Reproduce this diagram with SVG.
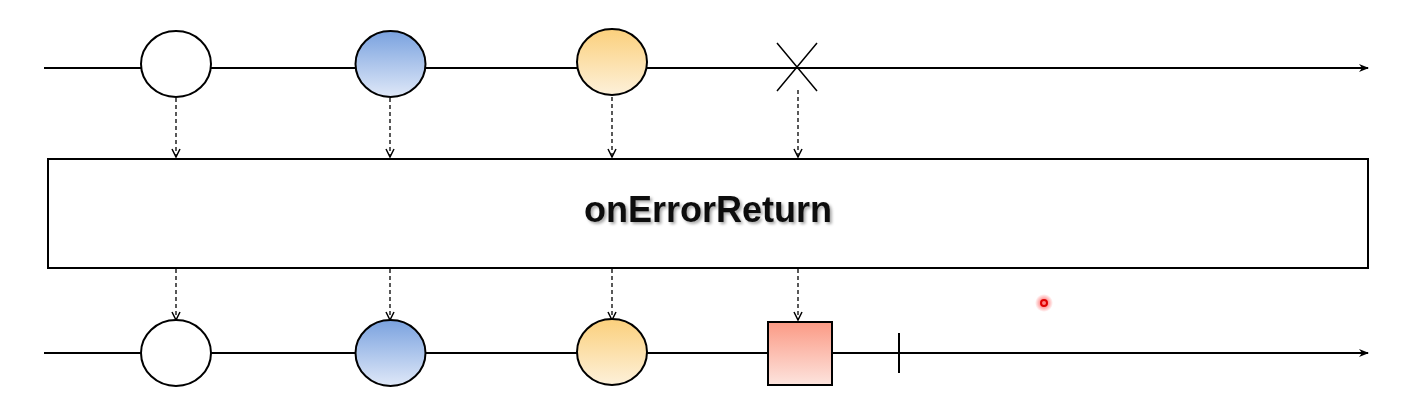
<svg xmlns="http://www.w3.org/2000/svg" width="1410" height="402" viewBox="0 0 1410 402">
<style>
.line{stroke:#000;stroke-width:2;fill:none}
.dash{stroke:#000;stroke-width:1.3;stroke-dasharray:4 3;fill:none}
.node{stroke:#000;stroke-width:2}
.label{font-family:"Liberation Sans",Arial,sans-serif;font-weight:bold;font-size:36px;fill:#111}
</style>
<defs>
<linearGradient id="gBlue" x1="0" y1="0" x2="0" y2="1"><stop offset="0" stop-color="#7aa2df"/><stop offset="1" stop-color="#dfe8f8"/></linearGradient>
<linearGradient id="gYellow" x1="0" y1="0" x2="0" y2="1"><stop offset="0" stop-color="#fbd07c"/><stop offset="1" stop-color="#fdf1da"/></linearGradient>
<linearGradient id="gRed" x1="0" y1="0" x2="0" y2="1"><stop offset="0" stop-color="#fb9a85"/><stop offset="1" stop-color="#fde4de"/></linearGradient>
<radialGradient id="gGlow"><stop offset="0.3" stop-color="#ff6060" stop-opacity="0.8"/><stop offset="1" stop-color="#ff6060" stop-opacity="0"/></radialGradient>
<marker id="arrow" viewBox="0 0 10 10" refX="9" refY="5" markerWidth="10" markerHeight="10" markerUnits="userSpaceOnUse" orient="auto"><path d="M1,1 L9,5 L1,9" fill="none" stroke="#000" stroke-width="1.5"/></marker>
<marker id="arrowBig" viewBox="0 0 10 10" refX="9" refY="5" markerWidth="12" markerHeight="10" markerUnits="userSpaceOnUse" orient="auto"><path d="M0,1 L10,5 L0,9 L3,5 Z" fill="#000"/></marker>
<filter id="shadow" x="-10%" y="-30%" width="120%" height="160%"><feDropShadow dx="2" dy="2" stdDeviation="1.5" flood-color="#000" flood-opacity="0.35"/></filter>
</defs>
<g id="connectors">
<line class="line" x1="44" y1="68" x2="1368" y2="68" marker-end="url(#arrowBig)"/>
<line class="line" x1="44" y1="353" x2="1368" y2="353" marker-end="url(#arrowBig)"/>
<line class="dash" x1="176" y1="98" x2="176" y2="157" marker-end="url(#arrow)"/>
<line class="dash" x1="390" y1="98" x2="390" y2="157" marker-end="url(#arrow)"/>
<line class="dash" x1="612" y1="97" x2="612" y2="157" marker-end="url(#arrow)"/>
<line class="dash" x1="798" y1="90" x2="798" y2="157" marker-end="url(#arrow)"/>
<line class="dash" x1="176" y1="269" x2="176" y2="320" marker-end="url(#arrow)"/>
<line class="dash" x1="390" y1="269" x2="390" y2="320" marker-end="url(#arrow)"/>
<line class="dash" x1="612" y1="269" x2="612" y2="320" marker-end="url(#arrow)"/>
<line class="dash" x1="798" y1="269" x2="798" y2="320" marker-end="url(#arrow)"/>
</g>
<g id="in-white"><ellipse class="node" cx="176" cy="64" rx="35" ry="33" fill="#fff"/></g>
<g id="in-blue"><ellipse class="node" cx="390.5" cy="64" rx="35" ry="33" fill="url(#gBlue)"/></g>
<g id="in-yellow"><ellipse class="node" cx="612" cy="62" rx="35" ry="33" fill="url(#gYellow)"/></g>
<g id="in-error"><path d="M777,43 L817,91 M817,43 L777,91" stroke="#000" stroke-width="1.5"/></g>
<g id="operator">
<rect x="48" y="159" width="1320" height="109" fill="#fff" stroke="#000" stroke-width="2"/>
<text class="label" x="708" y="222" text-anchor="middle" filter="url(#shadow)">onErrorReturn</text>
</g>
<g id="out-white"><ellipse class="node" cx="176" cy="353" rx="35" ry="33" fill="#fff"/></g>
<g id="out-blue"><ellipse class="node" cx="390.5" cy="353" rx="35" ry="33" fill="url(#gBlue)"/></g>
<g id="out-yellow"><ellipse class="node" cx="612" cy="352" rx="35" ry="33" fill="url(#gYellow)"/></g>
<g id="out-return"><rect class="node" x="768" y="322" width="64" height="63" fill="url(#gRed)" stroke-width="1.5"/></g>
<g id="out-complete"><line x1="899" y1="333" x2="899" y2="373" stroke="#000" stroke-width="2"/></g>
<g id="pointer">
<circle cx="1044" cy="303" r="9" fill="url(#gGlow)"/>
<circle cx="1044" cy="303" r="3" fill="none" stroke="#e00000" stroke-width="2"/>
</g>
</svg>
